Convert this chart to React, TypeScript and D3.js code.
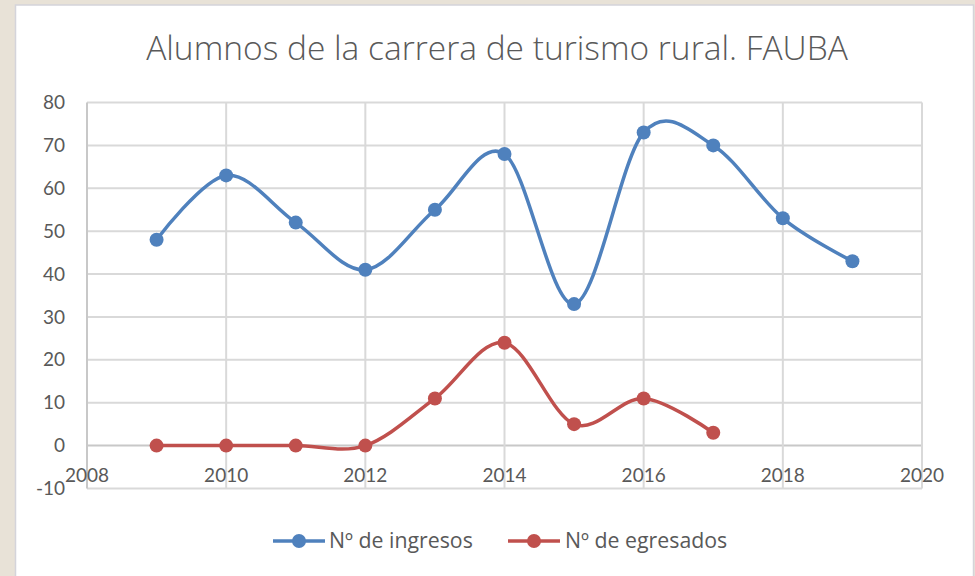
import React from "react";
import * as d3 from "d3";

const years = [2009, 2010, 2011, 2012, 2013, 2014, 2015, 2016, 2017, 2018, 2019];
const ingresos = [48, 63, 52, 41, 55, 68, 33, 73, 70, 53, 43];
const egresadosYears = [2009, 2010, 2011, 2012, 2013, 2014, 2015, 2016, 2017];
const egresados = [0, 0, 0, 0, 11, 24, 5, 11, 3];
const xTicks = [2008, 2010, 2012, 2014, 2016, 2018, 2020];
const yTicks = [-10, 0, 10, 20, 30, 40, 50, 60, 70, 80];
const seriesNames = ["Nº de ingresos", "Nº de egresados"];
const colors = ["#4f81bd", "#c0504d"];
const title = "Alumnos de la carrera de turismo rural. FAUBA";

const W = 975;
const H = 576;
const font = "Lato, 'Open Sans', sans-serif";
const textColor = "#595959";

export default function App() {
  const x = d3.scaleLinear().domain([2008, 2020]).range([87, 922]);
  const y = d3.scaleLinear().domain([-10, 80]).range([488.5, 102.5]);
  const line = d3
    .line<[number, number]>()
    .x((d) => x(d[0]))
    .y((d) => y(d[1]))
    .curve(d3.curveCatmullRom.alpha(0));

  const s1: [number, number][] = years.map((yr, i) => [yr, ingresos[i]]);
  const s2: [number, number][] = egresadosYears.map((yr, i) => [yr, egresados[i]]);
  const series = [s1, s2];

  const legendItems = [
    { lx: 273, tx: 329 },
    { lx: 508, tx: 565 },
  ];

  return (
    <svg
      width={W}
      height={H}
      style={{ position: "absolute", left: 0, top: 0 }}
      fontFamily={font}
    >
      <rect x={0} y={0} width={W} height={H} fill="#e8e2d7" />
      <rect x={15.5} y={5} width={958} height={H} fill="#ffffff" stroke="#d4d4da" strokeWidth={1.5} />

      <text
        x={497}
        y={60}
        textAnchor="middle"
        fontSize={33.5}
        fontWeight={300}
        fontFamily="'Open Sans', sans-serif"
        fill={textColor}
      >
        {title}
      </text>

      {/* horizontal grid */}
      {yTicks.map((t) => (
        <line
          key={"h" + t}
          x1={x(2008)}
          x2={x(2020)}
          y1={y(t)}
          y2={y(t)}
          stroke={t === 0 ? "#c8c8c8" : "#d9d9d9"}
          strokeWidth={2}
        />
      ))}
      {/* vertical grid */}
      {xTicks.map((t) => (
        <line
          key={"v" + t}
          x1={x(t)}
          x2={x(t)}
          y1={y(80)}
          y2={y(-10)}
          stroke={t === 2008 ? "#c8c8c8" : "#d9d9d9"}
          strokeWidth={2}
        />
      ))}

      {/* y labels */}
      {yTicks.map((t) => (
        <text
          key={"yl" + t}
          x={65}
          y={y(t)}
          dy="0.35em"
          textAnchor="end"
          fontSize={19}
          fill={textColor}
        >
          {t}
        </text>
      ))}
      {/* x labels */}
      {xTicks.map((t) => (
        <text
          key={"xl" + t}
          x={x(t)}
          y={y(0) + 30}
          dy="0.35em"
          textAnchor="middle"
          fontSize={19}
          fill={textColor}
        >
          {t}
        </text>
      ))}

      {series.map((s, i) => (
        <g key={"s" + i}>
          <path d={line(s) || ""} fill="none" stroke={colors[i]} strokeWidth={3.5} />
          {s.map((d, j) => (
            <circle key={j} cx={x(d[0])} cy={y(d[1])} r={7} fill={colors[i]} />
          ))}
        </g>
      ))}

      {/* legend */}
      {legendItems.map((it, i) => (
        <g key={"lg" + i}>
          <line x1={it.lx} x2={it.lx + 52} y1={541} y2={541} stroke={colors[i]} strokeWidth={3.5} />
          <circle cx={it.lx + 26} cy={541} r={7} fill={colors[i]} />
          <text
            x={it.tx}
            y={541}
            dy="0.35em"
            fontSize={21.3}
            fontFamily="'Open Sans', sans-serif"
            fill={textColor}
          >
            {seriesNames[i]}
          </text>
        </g>
      ))}
    </svg>
  );
}
